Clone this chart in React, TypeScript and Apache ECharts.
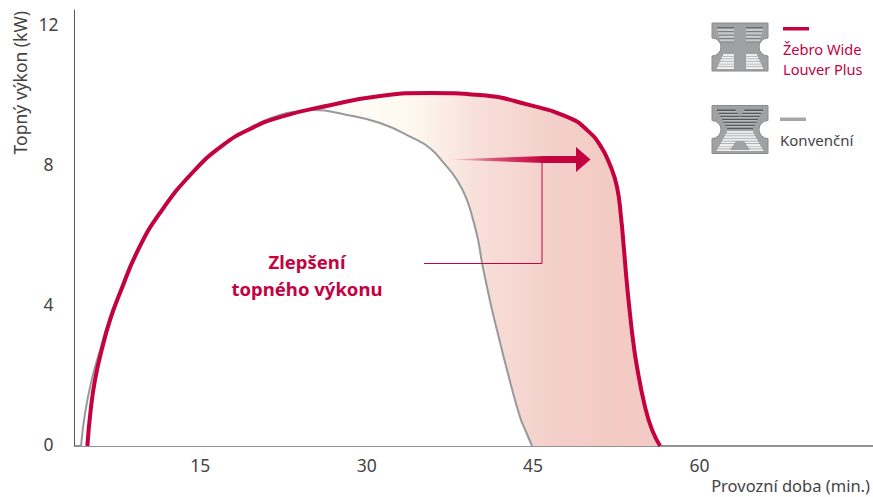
import React, { useEffect, useRef } from "react";
import * as echarts from "echarts";

const FONT = '"Noto Sans", sans-serif';
const RED = "#c4023f";
const GREY = "#97999b";
const TEXT = "#444444";

const xTicks = [15, 30, 45, 60];
const yTicks = [0, 4, 8, 12];
const xAxisName = "Provozní doba (min.)";
const yAxisName = "Topný výkon (kW)";
const louverPlusName = ["Žebro Wide", "Louver Plus"];
const conventionalName = "Konvenční";
const noteLines = ["Zlepšení", "topného výkonu"];

const louverPlus = [
  [4.81, 0], [5.11, 1.03], [5.5, 1.89], [6.1, 2.74], [6.85, 3.6], [7.75, 4.37], [9.38, 5.6],
  [11.36, 6.66], [14.34, 7.83], [17.04, 8.6], [19.48, 9.06], [22.18, 9.4], [26.69, 9.74],
  [31.2, 10.0], [35.71, 10.09], [40.22, 10.03], [44.73, 9.74], [48.33, 9.37], [49.86, 9.03],
  [51.04, 8.6], [51.94, 8.03], [52.57, 7.4], [52.93, 6.54], [53.2, 5.6], [53.43, 4.74],
  [53.7, 3.89], [54.01, 3.03], [54.37, 2.26], [55.1, 1.11], [55.73, 0.46], [56.45, 0],
];
const conventional = [
  [4.24, 0], [4.6, 0.94], [5.2, 1.89], [5.95, 2.74], [6.7, 3.54], [7.57, 4.29], [9.29, 5.6],
  [11.27, 6.66], [14.25, 7.83], [16.95, 8.6], [19.48, 9.09], [22.18, 9.46], [23.99, 9.57],
  [25.17, 9.6], [28.22, 9.46], [31.2, 9.23], [34.18, 8.8], [35.71, 8.51], [36.88, 8.11],
  [38.14, 7.6], [39.04, 7.03], [39.59, 6.46], [40.04, 5.89], [40.4, 5.23], [40.85, 4.54],
  [41.3, 3.89], [41.75, 3.31], [42.65, 2.17], [43.82, 0.83], [44.37, 0.4], [44.91, 0],
];

echarts.graphic.registerShape(
  "fin",
  echarts.graphic.extendPath("M0 0H56V15A9 9 0 0 0 56 33V48H0V33A9 9 0 0 0 0 15Z", {}) as any
);

const BODY = "#a0a1a3";

// Rows of thin bars whose left and right edges run linearly from (l0,r0) to (l1,r1).
function rows(y0: number, y1: number, step: number, h: number, l0: number, r0: number, l1: number, r1: number, fill: string) {
  const out: any[] = [];
  const n = Math.round((y1 - y0) / step);
  for (let i = 0; i <= n; i++) {
    const t = n ? i / n : 0;
    const l = l0 + (l1 - l0) * t;
    const r = r0 + (r1 - r0) * t;
    out.push({ type: "rect", shape: { x: l, y: y0 + i * step, width: r - l, height: h }, style: { fill } });
  }
  return out;
}

function finOne() {
  return [
    { type: "fin", x: 712, y: 23, style: { fill: BODY, stroke: "#8a8b8d", lineWidth: 1 } },
    ...rows(27, 41, 3.5, 1.3, 717, 734, 720, 734, "#6a6b6d"),
    ...rows(27, 41, 3.5, 1.3, 746, 763, 746, 760, "#6a6b6d"),
    ...rows(28.9, 39.5, 3.5, 2.2, 717, 734, 720, 734, "#c8c9ca"),
    ...rows(28.9, 39.5, 3.5, 2.2, 746, 763, 746, 760, "#c8c9ca"),
    ...rows(54, 66, 2.6, 2, 723, 734, 717, 734, "#eeeeee"),
    ...rows(54, 66, 2.6, 2, 746, 757, 746, 763, "#eeeeee"),
  ];
}

function finTwo() {
  return [
    { type: "fin", x: 712, y: 105.5, style: { fill: BODY, stroke: "#8a8b8d", lineWidth: 1 } },
    ...rows(109.5, 128, 3, 1.5, 717, 763, 727, 753, "#58595b"),
    ...rows(111, 126, 3, 1.5, 718, 762, 727, 753, "#b9babb"),
    { type: "polygon", shape: { points: [[735, 109], [745, 109], [740, 117]] }, style: { fill: BODY } },
    ...rows(131, 148, 2.6, 1.9, 727, 753, 717, 763, "#eeeeee"),
    { type: "polygon", shape: { points: [[736, 141], [744, 141], [750, 150], [730, 150]] }, style: { fill: BODY } },
  ];
}

export default function App() {
  const ref = useRef<HTMLDivElement>(null);
  useEffect(() => {
    if (!ref.current) return;
    const chart = echarts.init(ref.current, undefined, { renderer: "svg" });
    const gain = new echarts.graphic.LinearGradient(
      300, 0, 620, 0,
      [
        { offset: 0, color: "#ffffff" },
        { offset: 0.35, color: "#fef8ef" },
        { offset: 0.55, color: "#f8e0da" },
        { offset: 0.78, color: "#f4d0ca" },
        { offset: 1, color: "#f3cac4" },
      ],
      true
    );
    const arrowFill = new echarts.graphic.LinearGradient(
      447, 0, 545, 0,
      [
        { offset: 0, color: "rgba(196,2,63,0)" },
        { offset: 0.5, color: "rgba(196,2,63,0.65)" },
        { offset: 1, color: RED },
      ],
      true
    );
    const common = { type: "line", smooth: 0.5, smoothMonotone: "none", showSymbol: false, silent: true };
    chart.setOption({
      animation: false,
      textStyle: { fontFamily: FONT },
      grid: { left: 74.5, right: 0, top: 10, bottom: 51 },
      xAxis: {
        type: "value", min: 3.65, max: 75.65,
        name: xAxisName, nameLocation: "end", nameGap: -3,
        nameTextStyle: { color: TEXT, fontSize: 16.5, fontFamily: FONT, align: "right", verticalAlign: "top", padding: [31, 0, 0, 0] },
        axisLine: { lineStyle: { color: "#6f6f6f", width: 1.5 } },
        axisTick: { show: false },
        splitLine: { show: false },
        axisLabel: { customValues: xTicks, color: TEXT, fontSize: 17.5, fontFamily: FONT, margin: 10 },
      },
      yAxis: {
        type: "value", min: 0, max: 12.46,
        name: yAxisName, nameLocation: "end", nameRotate: 90, nameGap: -1,
        nameTextStyle: { color: TEXT, fontSize: 17.5, fontFamily: FONT, align: "right", verticalAlign: "bottom", padding: [0, 0, 46, 0] },
        axisLine: { show: true, onZero: false, lineStyle: { color: "#555555", width: 1 } },
        axisTick: { show: false },
        splitLine: { show: false },
        axisLabel: { customValues: yTicks, color: TEXT, fontSize: 17.5, fontFamily: FONT, align: "center", margin: 26, verticalAlign: "top", padding: [-11, 0, 0, 0] },
      },
      series: [
        { ...common, name: "gain", data: louverPlus, z: 1, lineStyle: { width: 0 }, areaStyle: { color: gain, opacity: 1 } },
        { ...common, name: conventionalName, data: conventional, z: 2, lineStyle: { color: GREY, width: 2 }, areaStyle: { color: "#ffffff", opacity: 1 } },
        { ...common, name: louverPlusName.join(" "), data: louverPlus, z: 3, lineStyle: { color: RED, width: 4 } },
      ],
      graphic: [
        { type: "polyline", z: 10, shape: { points: [[424, 263.5], [542, 263.5], [542, 160]] }, style: { stroke: RED, lineWidth: 1, fill: "none" } },
        {
          type: "polygon", z: 11,
          shape: { points: [[447, 159.5], [545, 156], [576, 156], [576, 147], [590.5, 159.5], [576, 172], [576, 163], [545, 163]] },
          style: { fill: arrowFill },
        },
        { type: "text", z: 12, style: { x: 307, y: 261, text: noteLines[0], fill: RED, font: `700 18.5px ${FONT}`, align: "center", verticalAlign: "middle" } },
        { type: "text", z: 12, style: { x: 307, y: 288, text: noteLines[1], fill: RED, font: `700 18.5px ${FONT}`, align: "center", verticalAlign: "middle" } },
        ...finOne().map((e) => ({ ...e, z: 12 })),
        ...finTwo().map((e) => ({ ...e, z: 12 })),
        { type: "rect", z: 12, shape: { x: 783, y: 27, width: 26, height: 3.5 }, style: { fill: RED } },
        { type: "text", z: 12, style: { x: 783, y: 58.5, text: louverPlusName.join("\n"), fill: RED, font: `14.6px ${FONT}`, lineHeight: 20, align: "left", verticalAlign: "middle" } },
        { type: "rect", z: 12, shape: { x: 780, y: 117.5, width: 26, height: 3.5 }, style: { fill: "#a5a6a8" } },
        { type: "text", z: 12, style: { x: 780, y: 140, text: conventionalName, fill: TEXT, font: `15px ${FONT}`, align: "left", verticalAlign: "middle" } },
      ],
    });
    return () => chart.dispose();
  }, []);
  return <div ref={ref} style={{ position: "absolute", left: 0, top: 0, width: 873, height: 497, background: "#ffffff" }} />;
}
